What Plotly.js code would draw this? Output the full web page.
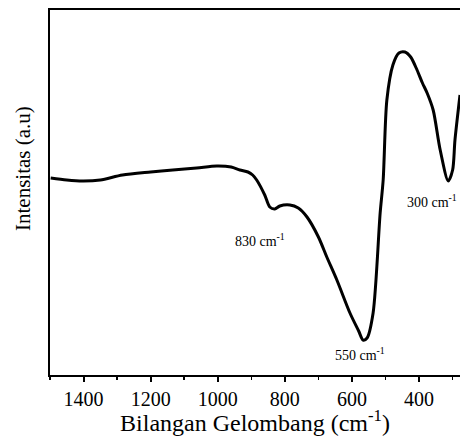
<!DOCTYPE html>
<html>
<head>
<meta charset="utf-8">
<script src="https://cdn.plot.ly/plotly-3.0.1.min.js"></script>
<style>html,body{margin:0;padding:0;background:#fff;}</style>
</head>
<body>
<div id="chart" style="width:460px;height:436px;"></div>
<script>
const wavenumber = [1498, 1450, 1403, 1350, 1284, 1200, 1134, 1063, 1003, 960, 934, 910, 896, 884, 860, 845, 830, 815, 785, 760, 734, 700, 675, 645, 606, 580, 567, 555, 537, 516, 507, 496, 478, 460, 442, 425, 406, 390, 376, 358, 337, 313, 300, 293, 278];
const intensity  = [197, 195, 194, 195, 200, 203, 205, 207, 209, 208, 205, 203, 200, 195, 180, 168, 166, 169, 170, 167, 158, 138, 118, 95, 62, 44, 35, 37, 62, 162, 195, 275, 310, 322, 323, 318, 305, 292, 282, 265, 225, 194, 205, 235, 280];
const peakLabels = ["830 cm<sup>-1</sup>", "550 cm<sup>-1</sup>", "300 cm<sup>-1</sup>"];
const peakLabelX = [956, 658, 443];
const peakLabelY = [135, 21, 174];
const yTitle = "Intensitas (a.u)";

const font = "Liberation Serif";

const annotations = peakLabels.map((t, i) => ({
  x: peakLabelX[i], y: peakLabelY[i], xref: 'x', yref: 'y',
  text: t, showarrow: false, xanchor: 'left', yanchor: 'middle',
  font: {family: font, size: 14, color: '#000'}
}));
annotations.push({
  x: -0.066, y: 0.567, xref: 'paper', yref: 'paper',
  text: yTitle, textangle: -90, showarrow: false,
  xanchor: 'center', yanchor: 'middle',
  font: {family: font, size: 21, color: '#000'}
});

Plotly.newPlot('chart', [{
  x: wavenumber, y: intensity, type: 'scatter', mode: 'lines',
  line: {color: '#000', width: 3, shape: 'spline', smoothing: 0.8},
  hoverinfo: 'none'
}], {
  width: 460, height: 436,
  margin: {l: 50, r: 0, t: 10, b: 61},
  paper_bgcolor: '#fff', plot_bgcolor: '#fff',
  showlegend: false,
  font: {family: font, color: '#000'},
  xaxis: {
    range: [1500, 278], showgrid: false, zeroline: false,
    showline: true, linecolor: '#000', linewidth: 2, mirror: true,
    ticks: 'outside', ticklen: 5, tickwidth: 2, tickcolor: '#000',
    dtick: 200, tick0: 0,
    tickfont: {family: font, size: 20, color: '#000'},
    minor: {dtick: 100, ticks: 'outside', ticklen: 3, tickwidth: 1.5, tickcolor: '#000', showgrid: false},
    title: {text: 'Bilangan Gelombang (cm<sup>-1</sup>)', font: {family: font, size: 24, color: '#000'}, standoff: 2}
  },
  yaxis: {
    range: [0, 365], showgrid: false, zeroline: false,
    showline: true, linecolor: '#000', linewidth: 2, mirror: false,
    ticks: '', showticklabels: false
  },
  annotations: annotations
}, {staticPlot: true});
</script>
</body>
</html>
